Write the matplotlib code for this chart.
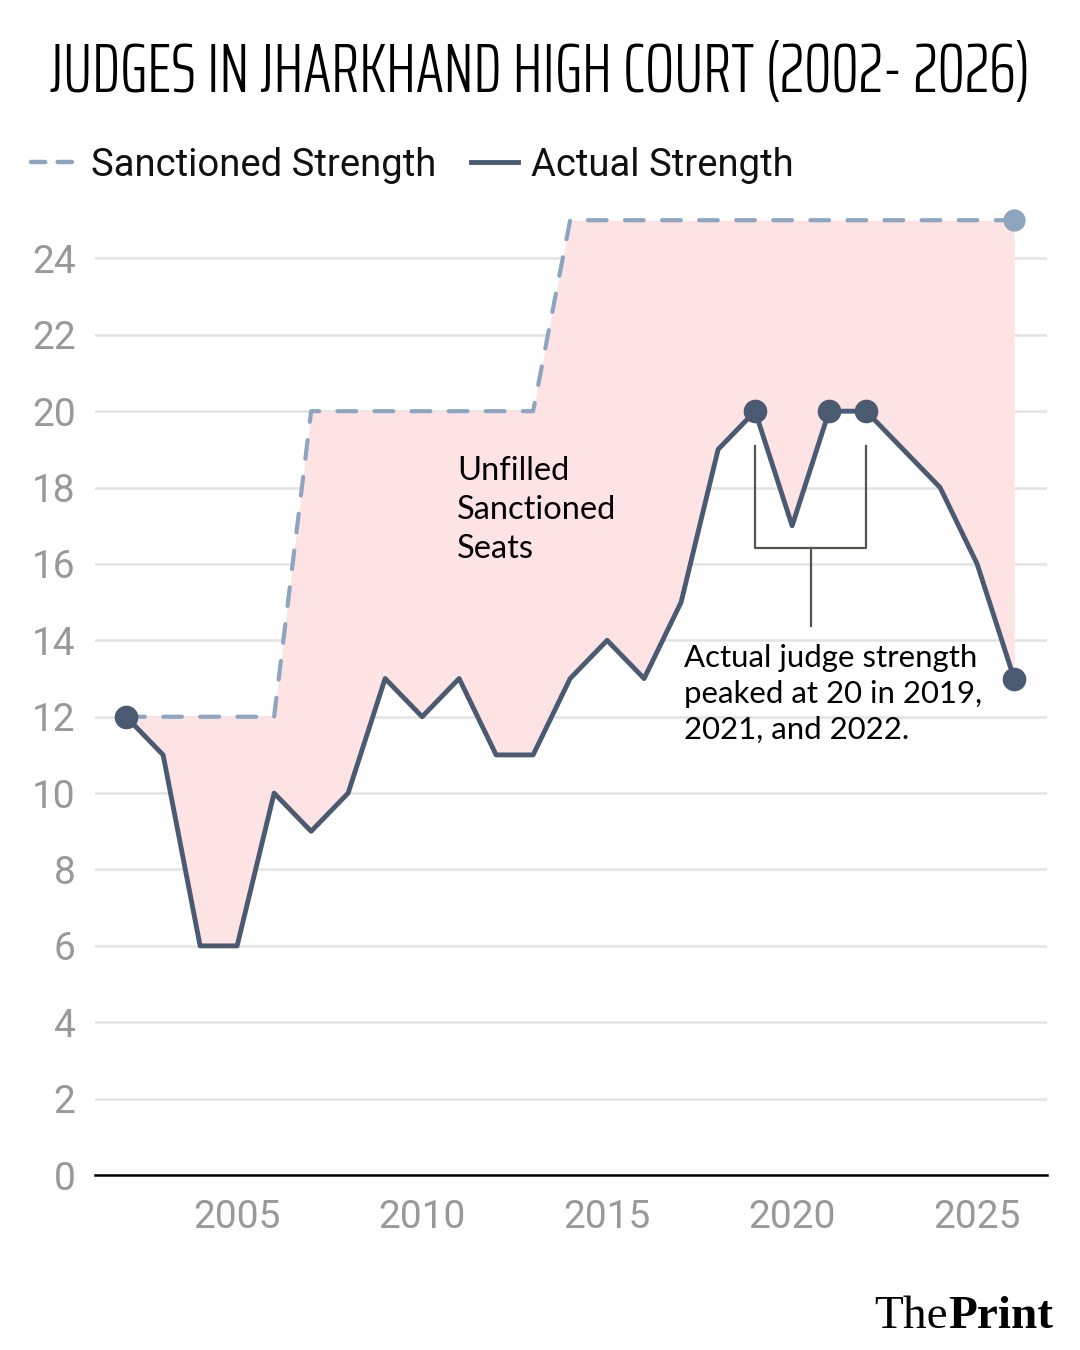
import matplotlib.pyplot as plt
from matplotlib.lines import Line2D

years = list(range(2002, 2027))
sanctioned = [12, 12, 12, 12, 12,
              20, 20, 20, 20, 20, 20, 20,
              25, 25, 25, 25, 25, 25, 25, 25, 25, 25, 25, 25, 25]
actual = [12, 11, 6, 6, 10, 9, 10, 13, 12, 13, 11, 11, 13,
          14, 13, 15, 19, 20, 17, 20, 20, 19, 18, 16, 13]
actual_dots = [2002, 2019, 2021, 2022, 2026]
xticks = [2005, 2010, 2015, 2020, 2025]
yticks = list(range(0, 25, 2))

sanc_color = '#8ea5bf'
act_color = '#4a5a70'
fill_color = '#fde3e3'
tick_color = '#999999'
note_font = ['Lato', 'DejaVu Sans']

plt.rcParams['font.family'] = ['Roboto', 'DejaVu Sans']

fig = plt.figure(figsize=(10.8, 13.5), dpi=100)
ax = fig.add_axes([0.088, 0.1296, 0.8815, 0.72])

ax.fill_between(years, actual, sanctioned, color=fill_color, lw=0, zorder=1)
ax.plot(years, sanctioned, color=sanc_color, lw=3, dashes=(4.5, 4.4),
        dash_capstyle='round', zorder=3)
ax.plot(years[-1], sanctioned[-1], 'o', color=sanc_color, ms=15, zorder=4)
ax.plot(years, actual, color=act_color, lw=3.5, zorder=5)
dot_vals = [actual[years.index(y)] for y in actual_dots]
ax.plot(actual_dots, dot_vals, 'o', color=act_color, ms=16, zorder=6)

# bracket for the peak note
br = '#55554f'
ax.plot([2019, 2019, 2022, 2022], [19.1, 16.42, 16.42, 19.1], color=br, lw=1.6, zorder=2)
ax.plot([2020.5, 2020.5], [16.42, 14.37], color=br, lw=1.6, zorder=2)

ax.text(2017.08, 13.9, 'Actual judge strength\npeaked at 20 in 2019,\n2021, and 2022.',
        family=note_font, fontsize=22.4, va='top', ha='left',
        linespacing=1.33, color='black', zorder=7)
ax.text(2010.95, 18.83, 'Unfilled\nSanctioned\nSeats',
        family=note_font, fontsize=23.5, va='top', ha='left',
        linespacing=1.37, color='black', zorder=7)

ax.set_xlim(2001.16, 2026.89)
ax.set_ylim(0, 25.45)
ax.set_xticks(xticks)
ax.set_yticks(yticks)
ax.tick_params(axis='both', length=0, labelsize=28, colors=tick_color)
ax.tick_params(axis='x', pad=17)
ax.tick_params(axis='y', pad=14)
ax.grid(axis='y', color='#e3e3e3', lw=1.8, zorder=0)
ax.set_axisbelow(True)
for s in ['top', 'right', 'left']:
    ax.spines[s].set_visible(False)
ax.spines['bottom'].set_color('black')
ax.spines['bottom'].set_linewidth(1.8)
ax.spines['bottom'].set_zorder(8)

handles = [Line2D([], [], color=sanc_color, lw=3.2, dashes=(3.2, 2.8), dash_capstyle='round'),
           Line2D([], [], color=act_color, lw=3.5)]
fig.legend(handles, ['Sanctioned Strength', 'Actual Strength'],
           loc='center left', bbox_to_anchor=(0.029, 1 - 165 / 1350), ncol=2,
           frameon=False, fontsize=27.5, handlelength=1.23, handletextpad=0.34,
           columnspacing=0.9, labelcolor='#111111', borderaxespad=0, borderpad=0)

r = fig.canvas.get_renderer()
title = fig.text(0.5, 1 - 72 / 1350, 'JUDGES IN JHARKHAND HIGH COURT (2002- 2026)',
                 family=['Saira ExtraCondensed', 'Roboto Condensed', 'DejaVu Sans'],
                 weight=300, fontsize=40, ha='center', va='center', color='black')
w = title.get_window_extent(renderer=r).width
title.set_fontsize(40 * 980 / w)

# logo: "The" regular, "Print" bold
tp = fig.text(1053 / 1080, 1 - 1328 / 1350, 'Print', family=['Liberation Serif'],
              fontsize=34, weight='bold', ha='right', va='baseline', color='black')
bb = tp.get_window_extent(renderer=r)
fig.text(bb.x0 / 1080, 1 - 1328 / 1350, 'The', family=['Liberation Serif'],
         fontsize=34, ha='right', va='baseline', color='black')

fig.savefig('out.png', dpi=100, facecolor='white')
